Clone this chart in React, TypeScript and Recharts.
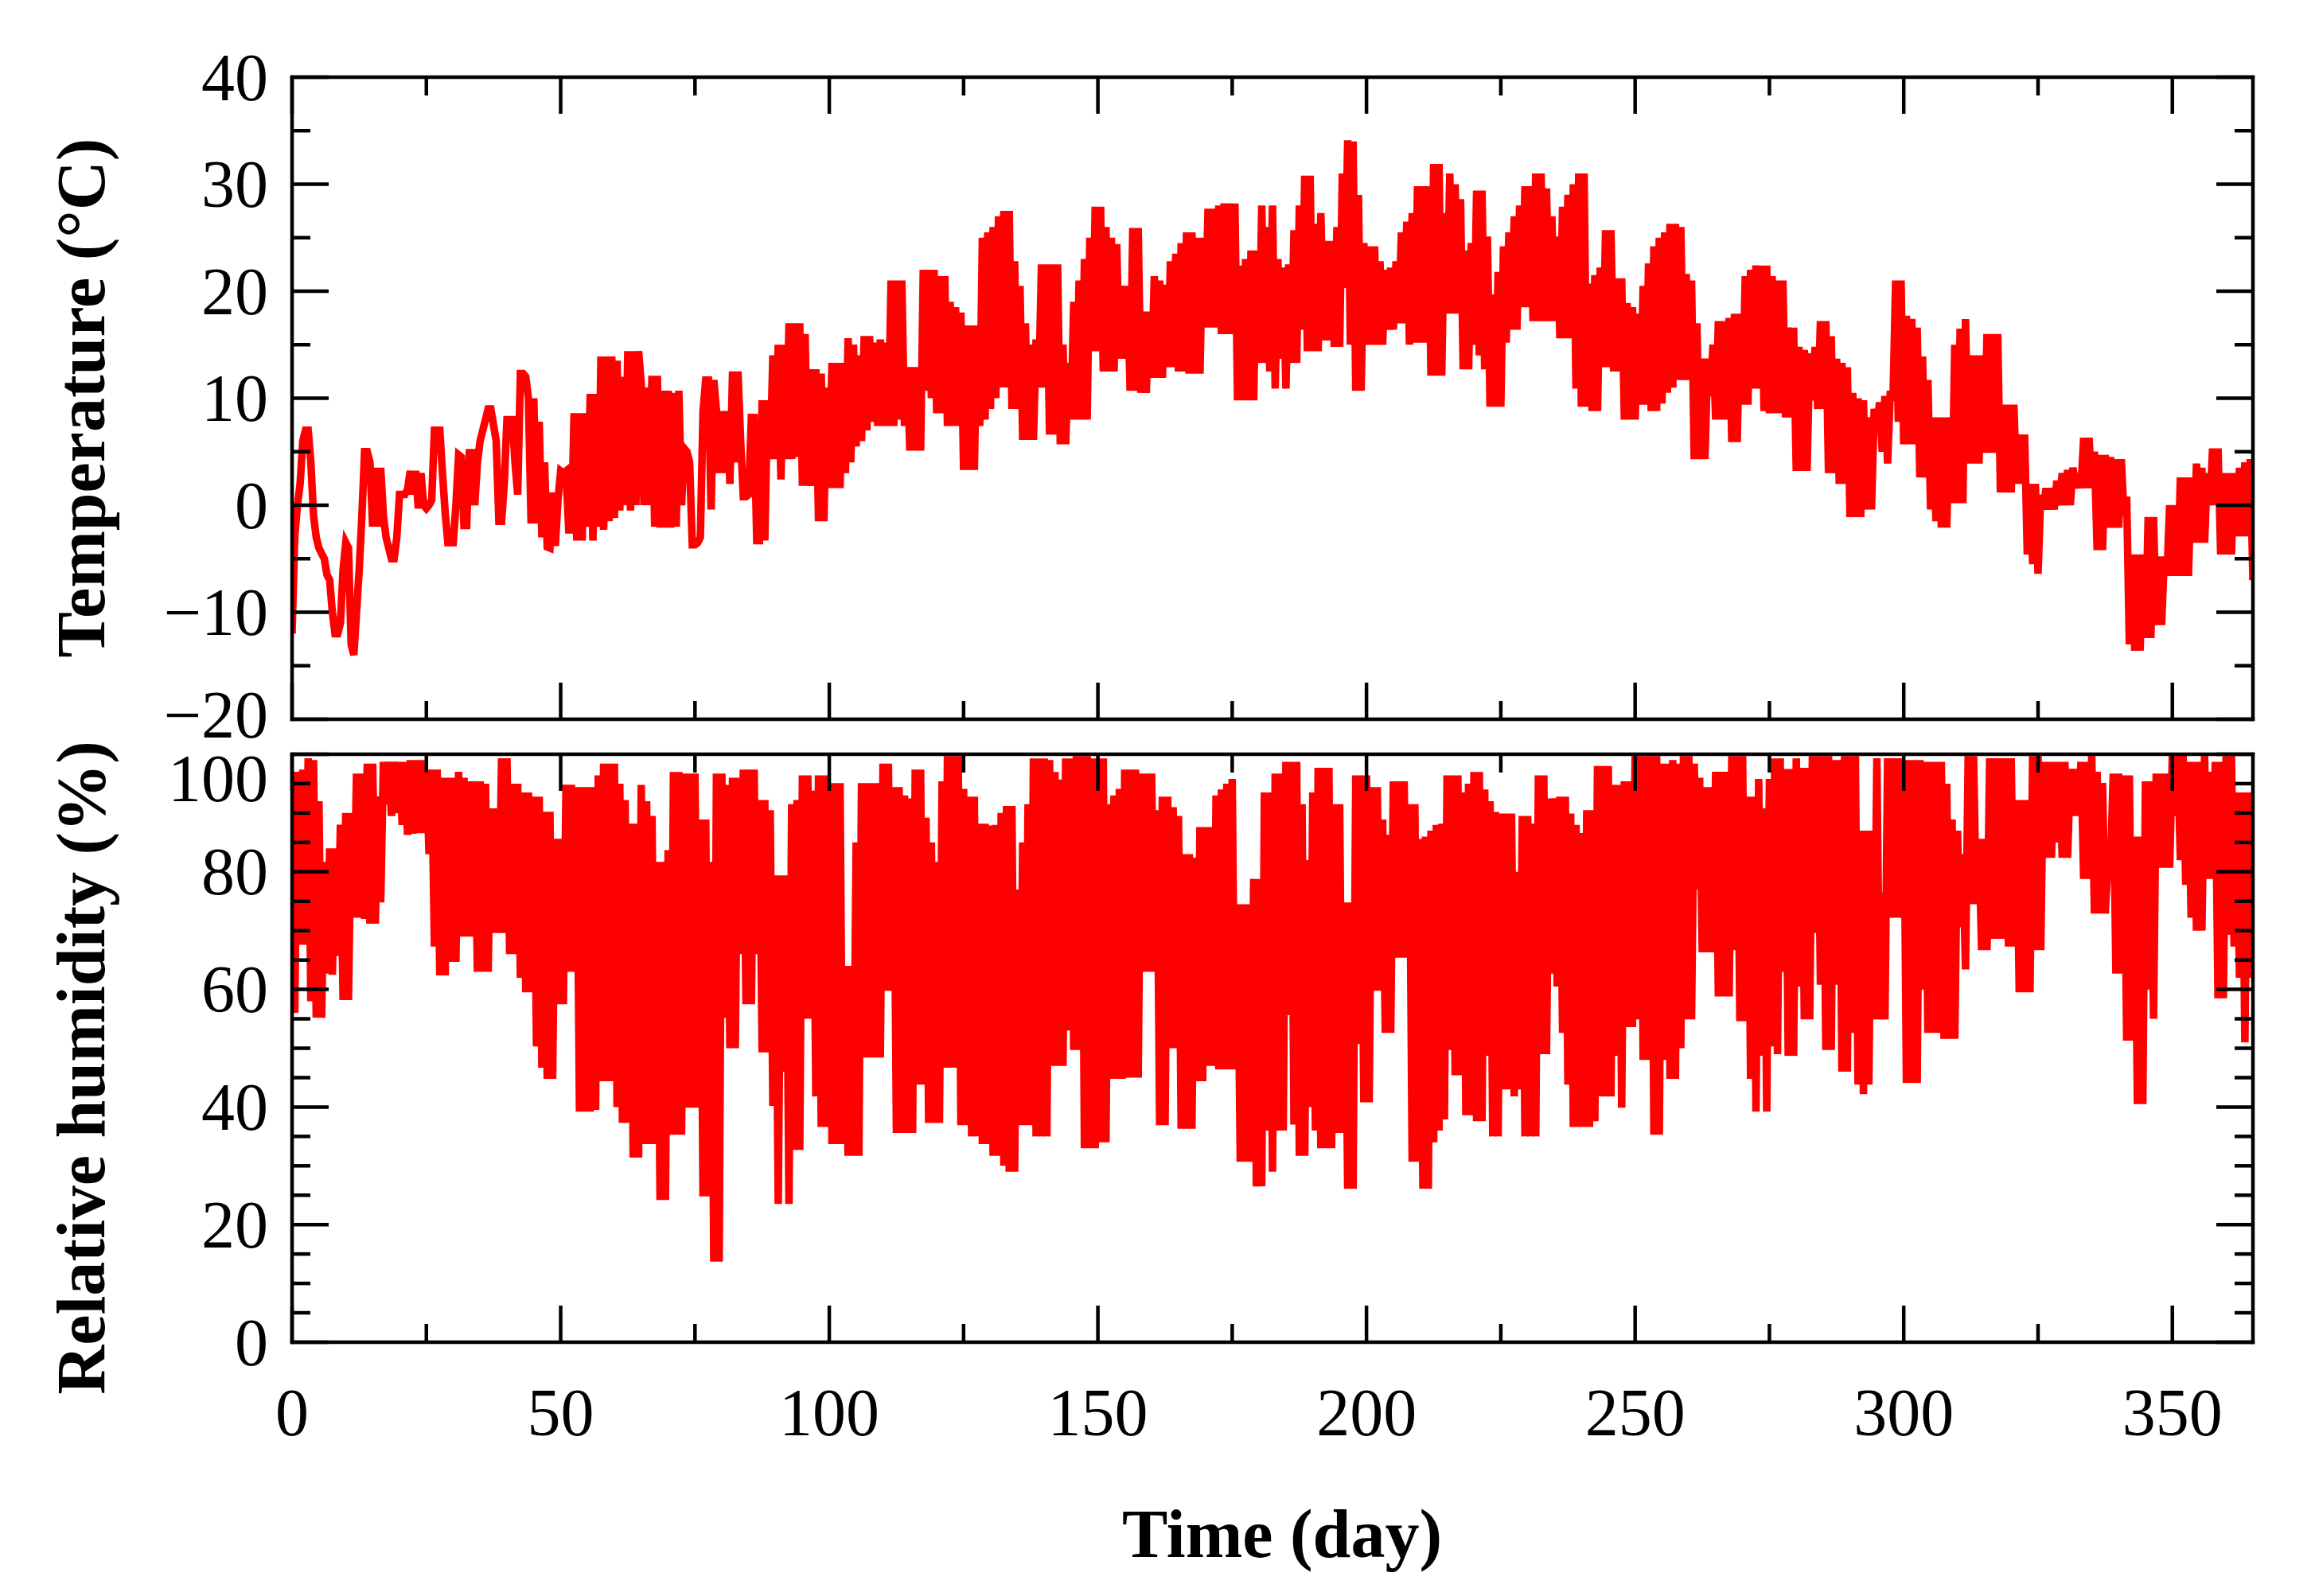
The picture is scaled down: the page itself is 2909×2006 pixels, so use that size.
import React from 'react';
import { LineChart, Line, XAxis, YAxis, ReferenceLine } from 'recharts';

// ---------- data ----------
const SAMPLES_PER_DAY = 2;
const dayTicks = [0, 25, 50, 75, 100, 125, 150, 175, 200, 225, 250, 275, 300, 325, 350];
const dayLabels = [0, 50, 100, 150, 200, 250, 300, 350];
const temperatureTicks = [-20, -15, -10, -5, 0, 5, 10, 15, 20, 25, 30, 35, 40];
const temperatureLabels = [-20, -10, 0, 10, 20, 30, 40];
const humidityTicks = [0, 5, 10, 15, 20, 25, 30, 35, 40, 45, 50, 55, 60, 65, 70, 75, 80, 85, 90, 95, 100];
const humidityLabels = [0, 20, 40, 60, 80, 100];

// two readings per day (temperature, °C)
const temperatureValues = [
  -12,-3, 0,2, 6,7, 7,4, -1,-3, -4,-4.5, -5,-6.5, -7,-10, -12,-12, -11,-6,
  -3.5,-4, -13,-14, -10,-6, -1,5, 5,4, -2,3.5, -2,3.5, -1,-3, -4,-5, -5,-3,
  1,1, 1,1.5, 3.2,1, 3.2,-0.3, 3,0, -0.3,0, 0.5,7, 7,7, 3,-0.7, -3.5,-3.5,
  -3.5,0, 4.7,4.5, -1.9,-1.9, 4.9,4.9, 0,4, 6,7, 8,9, 9,7.5, 6,-1.5, -1.5,2,
  8,8, 8,4, 1,12.3, 12.3,12, 10,-1.7, 10,-1.7, 7.8,-3, 4,-3.9, -4,1.2, -3.8,0.5,
  3.2,3, 3.2,-2.3, -2.3,8.6, -3.3,8.6, -3.3,8.6, -2,10.4, -3.3,10.4, -2,13.9, -2.3,13.9, -1.5,13.9,
  -1.2,13.5, -0.5,12, 0,14.4, -0.5,14.4, 0,14.4, 11.3,0, 11,0, 12.1,-2, 12.1,-2.1, 10.7,-2.1,
  10.7,-2.1, 10.5,-2, 10.7,0, 5.3,5, 4,-3.7, -3.7,-3.5, -3,8.8, 11.7,11.7, -0.4,11.7, 8.8,3,
  8.8,3, 8.8,2, 12.5,4, 12.5,6, 0.8,0.8, 1,8.2, 8.2,-3.3, -3.3,9.8, -3.3,9.8, 4.3,14,
  4.3,15, 2.4,15, 4.3,17, 4.3,17, 4.5,17, 1.8,16, 1.8,12.7, 1.8,12.7, -1.5,12.3, -1.5,11,
  1.6,13.3, 1.6,13.3, 1.6,13.3, 3,15.6, 4,15, 5.5,14, 6,15.8, 7,15.8, 7.8,15.2, 7.4,15.5,
  7.4,15.2, 7.4,21, 7.4,21, 8,21, 7.4,12.9, 5.1,12.9, 5.1,12.9, 5.1,22, 10.7,22, 10,22,
  8.6,21.4, 8.6,21.4, 7.4,19, 7.4,18.5, 7.4,18, 3.3,16.8, 3.3,16.8, 3.3,16.8, 7.4,25, 8,25.5,
  9,26, 10,27, 11,27.5, 11,27.5, 9,22.8, 9,20.5, 6.1,17, 6.1,15, 6.1,15.5, 11,22.5,
  11,22.5, 6.6,22.5, 6.6,22.5, 5.7,15, 5.7,13.3, 8,19, 8,21, 8,23, 8,25, 14.4,27.9,
  14.4,27.9, 12.5,26, 12.5,25, 12.5,24.4, 13.7,20.5, 13.7,20.5, 10.7,25.9, 10.7,25.9, 10.5,18.1, 10.5,18.1,
  11.9,21.4, 11.9,21, 11.9,20.6, 12.9,22.8, 12.9,23.5, 12.5,24.5, 12.5,25.5, 12.3,25.5, 12.3,25, 12.3,25,
  16.6,27.7, 16.6,27.7, 16.6,28, 16,28.2, 16,28.2, 16,28.2, 9.8,22.4, 9.8,23, 9.8,23.8, 9.8,23.8,
  13.3,28, 13.3,26, 12.5,28, 10.9,23, 13.7,22.2, 10.9,22.5, 13.3,25.7, 13.3,28, 16.4,30.8, 14.4,30.8,
  14.4,26.3, 14.4,27.3, 15.4,24.7, 15.4,24.7, 14.8,26, 14.8,31, 20.3,34.1, 15,34, 10.7,29, 10.7,24.5,
  15,24.2, 15,24.2, 15,22.8, 15,22, 16.4,22.2, 16.4,22.8, 17,25.5, 17,26.5, 15,27.3, 15.2,29.8,
  15.2,29.8, 15.2,29.8, 12.1,31.9, 12.1,31.9, 12.1,27.3, 17.9,31, 17.9,30, 17.9,28.6, 12.7,23.8, 12.7,24.5,
  15,29.4, 14,29.4, 12.7,25.1, 9.2,19.7, 9.2,21.8, 9.2,24.2, 15.2,25.5, 16.4,27, 16.4,28, 18.5,29.8,
  18.5,29.8, 17.2,31, 17.2,31, 17.2,29.6, 17.2,27, 17.2,25.1, 15.6,27.9, 15.6,29, 15.6,30, 10.9,31,
  9.2,31, 9.2,20.7, 8.8,21.5, 8.8,22.2, 12.9,25.7, 12.9,25.7, 12.5,21.2, 12.5,21.2, 8,18.9, 8,18.5,
  8,17.9, 9.4,20.5, 9.4,22.6, 8.8,24.2, 8.8,25, 9.5,25.5, 10.5,26.3, 11,26.3, 11.7,26, 11.7,21.6,
  11.7,21, 4.3,17, 4.3,13.7, 4.3,13.7, 10.2,15, 8,17.2, 8,17.2, 8,17.5, 5.9,17.9, 5.9,17.9,
  9.4,21.4, 9.4,22, 10.9,22.4, 10.9,22.4, 8.8,22.4, 8.6,21.4, 8.6,21, 8.6,21, 8.2,16.6, 8.2,16.6,
  3.2,14.8, 3.2,14.5, 3.2,14.2, 9.8,14.8, 9,17.2, 9,17.2, 3,15.8, 3,13.7, 2,13.3, 2,12.9,
  -1.1,10.5, -1.1,10, -1.1,9.8, -0.4,8.2, -0.4,9, 7.4,9.6, 5,10.2, 3.9,10.7, 9.8,21, 7.8,21,
  5.7,17.7, 5.7,17.4, 5.7,16.6, 2.6,13.9, 2.6,11.7, -0.4,8.2, -1.5,8.2, -2.1,8.2, -2.1,8.2, 0.2,15,
  0.2,16.5, 0.2,17.4, 3.9,14, 3.9,14, 3.9,14, 4.9,16, 4.9,16, 4.9,16, 1.2,9.4, 1.2,9.4,
  1.2,9.4, 2,6.6, 2,6.6, -4.6,2, -5.5,2, -6.4,1, -0.4,1.6, -0.4,1.6, -0.4,2.3, 0,3,
  0,3.3, 0,3.5, 1.6,3, 1.6,6.3, 1.6,6.3, 1.6,5, -4.2,4.7, -4.2,4.7, -2.1,4.5, -2.1,4.3,
  -2.1,4.3, -1,0.8, -13,-4.6, -13.6,-4.6, -13.6,-4.6, -12.4,-1.1, -12.4,-1.1, -11.2,-4.8, -11.2,-4.8, -6.6,0,
  -6.6,0, -6.6,2.6, -6.6,2.6, -6.6,2.6, -3.5,3.9, -3.5,3.5, -3.5,3, 0,5.3, 0,5.3, -4.6,3,
  -4.6,3, -4.6,3, -2.9,3.5, -2.9,4, -2.9,4.3,
  -7,
];

// two readings per day (relative humidity, %)
const humidityValues = [
  96,56, 97,67.6, 97.4,67.6, 99.3,58, 99,55.2, 92,55.2, 81.7,62.7, 84,62.5, 84,65.7, 88,58.2,
  90,58.2, 90,72.2, 96.7,72.2, 96.7,72, 98.4,71.2, 98.4,71.2, 92.8,74.8, 98.7,91.5, 98.7,89.5, 98.7,90,
  98.7,88, 98.7,86.3, 99,86.5, 99,86.6, 99,86.6, 97.4,83, 97.4,67.3, 97.4,62.4, 96,62.4, 96,64.7,
  96,64.7, 97,69, 96,69, 95.4,69, 95.4,63, 95.4,63, 95,63, 90.8,69.6, 90.8,69.6, 99.3,69.6,
  99.3,66, 95,66, 95,62, 93.5,59.5, 93.5,59.5, 92.8,50.3, 92.8,46.7, 90.2,44.8, 90.2,44.8, 85.6,57.5,
  85.6,57.5, 94.8,63, 94.8,63, 94.4,39.2, 94.4,39.2, 94.4,39.2, 94.4,39.5, 96.4,44.4, 98.4,44.4, 98.4,44.4,
  98.4,40, 95,37.3, 92.2,37.3, 88.2,31.4, 88.2,31.4, 94.8,33.7, 92,33.7, 89.5,33.7, 81.7,24.2, 81.7,24.2,
  83.7,35.3, 97,35.3, 97,35.3, 96.7,39.9, 96.7,39.9, 96.7,39.9, 88.9,24.8, 88.9,24.8, 81.7,13.7, 96.7,13.7,
  96.7,55.2, 94.8,50, 96,50, 96,66, 97.4,57.5, 97.4,57.5, 97.4,66, 92.2,49.3, 92.2,49.3, 90.5,40.2,
  79.4,23.5, 79.4,46, 79.4,23.5, 91.5,32.7, 92.2,32.7, 96.4,55, 96.4,55, 93.8,41.8, 96.4,36.6, 96.4,36.6,
  95.1,33.7, 95.1,33.7, 95.1,33.7, 64,31.7, 64,31.7, 85,31.7, 95.1,48.4, 95.1,48.4, 95.1,48.4, 95.1,48.4,
  98.4,59.8, 98.4,59.8, 94.4,35.6, 94.4,35.6, 93,35.6, 92.5,35.6, 97.4,43.8, 97.4,43.8, 89.2,37.3, 85,37.3,
  81.7,37.3, 95.4,46.7, 99.7,46.7, 99.7,46.7, 99.7,36.9, 94.1,36.9, 92.8,35, 92.8,35, 88.2,33.7, 88.2,33.7,
  87.9,31.7, 88,31.7, 90,30, 91.2,29, 91.2,29, 77,36.9, 85,36.9, 91.5,36.9, 99.3,35, 99.3,35,
  99.3,35, 99,47, 97,47, 95.7,47, 99.3,53, 99.3,49.7, 99.7,49.7, 99.7,33, 99.7,33, 99.3,33,
  99.3,34, 99.3,34, 91.5,44.8, 93,44.8, 94.1,44.8, 97.4,45, 97.4,45, 97.4,45, 96.7,63, 96.7,63,
  96.7,63, 90.5,36.9, 92.8,36.9, 92.8,50, 91,50, 89.5,36.3, 83,36.3, 83,36.3, 82.4,44.4, 87.6,44.4,
  87.6,47, 87.6,47, 93,46.4, 94,46.4, 95,46.4, 95.8,46.4, 74.5,30.7, 74.5,30.7, 74.5,30.7, 78.8,26.5,
  78.8,26.5, 93.5,36, 93.5,29, 96.7,36, 96.7,36, 98.7,55.6, 98.7,37, 98.7,31.7, 91.5,31.7, 82,40,
  93.5,36, 97.7,33, 97.7,33, 97.7,33, 91.5,35.6, 91.5,35.6, 74.8,26.1, 74.8,26.1, 96.4,50.7, 96.4,40.8,
  96.4,40.8, 94.4,59.8, 94.4,59.8, 88.9,52.6, 86.3,52.6, 95.4,65.4, 95.4,65.4, 95.4,65.4, 91.5,30.7, 91.5,30.7,
  85.6,26.1, 86,26.1, 87,34, 88,36, 88.2,37.9, 96.4,49.7, 96.4,45.4, 96.4,45.4, 93.5,38.6, 95,38.6,
  97,37.6, 97,37.6, 94,48.7, 92,35, 90.2,35, 89.9,43, 89.9,43, 89.9,41.8, 80,43, 89.5,35,
  89.5,35, 88.2,35, 96.4,49, 96.4,49, 92.5,62.7, 92.5,60.5, 92.8,52.6, 92.8,43.8, 89.9,36.6, 88,36.6,
  86.6,36.6, 90.5,36.6, 90.5,37.6, 98,41.8, 98,41.8, 98,41.8, 94.8,48.7, 94.8,39.9, 95.4,53.6, 95.4,53.6,
  99.7,54.9, 99.7,48, 99.7,48, 99.7,35.3, 99.7,35.3, 98.4,48, 98.4,44.8, 99,44.8, 98.4,50, 99.7,54.9,
  99.7,54.9, 98.4,77, 96,66.3, 94.4,66.3, 94.4,66.3, 97,58.8, 97,58.8, 97,58.8, 99.7,66.7, 99.7,54.6,
  99.7,54.6, 92.8,44.8, 92.8,39.2, 95.8,48.7, 90.8,39.2, 95.8,50.3, 99.3,49, 99.3,63, 97.5,48.7, 97.5,48.7,
  99.3,60.5, 97.7,54.9, 97.7,54.9, 99.7,69.6, 99.7,60.8, 99.7,49.7, 99.7,49.7, 99,60.8, 99,46, 99.7,46,
  99.7,52.6, 99.7,43.8, 87,42.2, 87,43.8, 87,54.9, 99.3,54.9, 76.5,54.9, 99.3,72.2, 99.3,72.2, 99.3,72.2,
  99,44.1, 99,44.1, 99,44.1, 99,60, 98.7,52.6, 98.7,52.6, 98.7,52.6, 98.7,51.6, 95,51.6, 88.9,51.6,
  87,70.6, 83,63.4, 99.7,74.5, 99.7,74.5, 85.6,66.7, 85.6,66.7, 99.3,68.6, 99.3,68.6, 99.3,68.6, 99.3,67.3,
  99.3,67.3, 92.2,59.5, 92.2,59.5, 92.2,59.5, 99.7,66.7, 99.7,66.7, 98.7,82.4, 98.7,82.4, 98.7,85, 98.7,82.4,
  98.7,82.4, 97.5,89.5, 97.5,89.5, 98.7,78.8, 98.7,78.8, 99.7,72.9, 97,72.9, 95.1,72.9, 81,81, 96.7,62.7,
  96.7,62.7, 96.4,51.3, 96.4,51.3, 86,40.5, 86,40.5, 95.4,60, 95.4,55, 96.7,80.7, 96.7,80.7, 96.7,80.7,
  99.7,89.5, 99.7,82, 99.7,77.8, 98.7,72.2, 98.7,70, 98.7,70, 99.7,78.8, 97,78.8, 98.7,58.5, 98.7,58.5,
  99.7,69.3, 99.7,67.3, 93.5,62, 93.5,51, 93.5,62,
  93,
];

const temperatureData = temperatureValues.map((v, i) => ({ day: i / SAMPLES_PER_DAY, temperature: v }));
const humidityData = humidityValues.map((v, i) => ({ day: i / SAMPLES_PER_DAY, humidity: v }));

// ---------- layout / style ----------
const W = 2909;
const H = 2006;
const PLOT_LEFT = 367;
const PLOT_RIGHT = 2831;
const CHART1_H = 1000;
const CHART1_TOP = 97;
const CHART1_BOTTOM = 904;
const CHART2_TOP = 948;
const CHART2_BOTTOM = 1687;
const AXIS_BAND = 1; // tiny axis band so the axes render

const FONT = '"Liberation Serif", "Times New Roman", serif';
const TICK_FONT_SIZE = 84;
const TITLE_FONT_SIZE = 86;
const STROKE = 4.5;
const MAJOR_LEN = 46;
const MINOR_LEN = 23;
const RED = '#ff0000';
const LINE_WIDTH = 9.5;

const fmt = (v: number) => String(v).replace('-', '\u2212');

function makeYTick(labels: number[], topValue: number, topShift: number, bottomValue: number, bottomShift: number) {
  return (props: any) => {
    const { x, y, payload } = props;
    const v = payload.value as number;
    const major = labels.includes(v);
    const len = major ? MAJOR_LEN : MINOR_LEN;
    const shift = v === topValue ? topShift : v === bottomValue ? bottomShift : 0;
    return (
      <g>
        <line x1={x} y1={y} x2={x + len} y2={y} stroke="#000" strokeWidth={STROKE} />
        <line x1={PLOT_RIGHT} y1={y} x2={PLOT_RIGHT - len} y2={y} stroke="#000" strokeWidth={STROKE} />
        {major && (
          <text
            x={x - 30}
            y={y + shift}
            dy="0.34em"
            textAnchor="end"
            fontFamily={FONT}
            fontSize={TICK_FONT_SIZE}
            fill="#000"
          >
            {fmt(v)}
          </text>
        )}
      </g>
    );
  };
}

function makeXTick(plotTop: number, showLabels: boolean) {
  return (props: any) => {
    const { x, y, payload } = props;
    const v = payload.value as number;
    const major = dayLabels.includes(v);
    const len = major ? MAJOR_LEN : MINOR_LEN;
    return (
      <g>
        <line x1={x} y1={y} x2={x} y2={y - len} stroke="#000" strokeWidth={STROKE} />
        <line x1={x} y1={plotTop} x2={x} y2={plotTop + len} stroke="#000" strokeWidth={STROKE} />
        {showLabels && major && (
          <text
            x={x}
            y={y + 88}
            dy="0.34em"
            textAnchor="middle"
            fontFamily={FONT}
            fontSize={TICK_FONT_SIZE}
            fill="#000"
          >
            {fmt(v)}
          </text>
        )}
      </g>
    );
  };
}

const axisLineStyle = { stroke: '#000', strokeWidth: STROKE, strokeLinecap: 'square' as const };

export default function App() {
  return (
    <div style={{ position: 'absolute', left: 0, top: 0, width: W, height: H, background: '#fff' }}>
      <div style={{ position: 'absolute', left: 0, top: 0 }}>
        <LineChart
          width={W}
          height={CHART1_H}
          data={temperatureData}
          margin={{
            top: CHART1_TOP,
            right: W - PLOT_RIGHT,
            bottom: CHART1_H - CHART1_BOTTOM - AXIS_BAND,
            left: PLOT_LEFT - AXIS_BAND,
          }}
        >
          <XAxis
            dataKey="day"
            type="number"
            domain={[0, 365]}
            allowDataOverflow
            ticks={dayTicks}
            interval={0}
            height={AXIS_BAND}
            tickSize={0}
            tickMargin={0}
            tickLine={false}
            axisLine={axisLineStyle}
            tick={makeXTick(CHART1_TOP, false)}
          />
          <YAxis
            type="number"
            domain={[-20, 40]}
            allowDataOverflow
            ticks={temperatureTicks}
            interval={0}
            width={AXIS_BAND}
            tickSize={0}
            tickMargin={0}
            tickLine={false}
            axisLine={axisLineStyle}
            tick={makeYTick(temperatureLabels, 40, 0, -20, -6)}
          />
          <Line
            type="linear"
            dataKey="temperature"
            stroke={RED}
            strokeWidth={LINE_WIDTH}
            dot={false}
            activeDot={false}
            isAnimationActive={false}
          />
          <ReferenceLine y={40} stroke="#000" strokeWidth={STROKE} strokeLinecap="square" />
          <ReferenceLine x={365} stroke="#000" strokeWidth={STROKE} strokeLinecap="square" />
        </LineChart>
      </div>
      <div style={{ position: 'absolute', left: 0, top: 0 }}>
        <LineChart
          width={W}
          height={H}
          data={humidityData}
          margin={{
            top: CHART2_TOP,
            right: W - PLOT_RIGHT,
            bottom: H - CHART2_BOTTOM - AXIS_BAND,
            left: PLOT_LEFT - AXIS_BAND,
          }}
        >
          <XAxis
            dataKey="day"
            type="number"
            domain={[0, 365]}
            allowDataOverflow
            ticks={dayTicks}
            interval={0}
            height={AXIS_BAND}
            tickSize={0}
            tickMargin={0}
            tickLine={false}
            axisLine={axisLineStyle}
            tick={makeXTick(CHART2_TOP, true)}
          />
          <YAxis
            type="number"
            domain={[0, 100]}
            allowDataOverflow
            ticks={humidityTicks}
            interval={0}
            width={AXIS_BAND}
            tickSize={0}
            tickMargin={0}
            tickLine={false}
            axisLine={axisLineStyle}
            tick={makeYTick(humidityLabels, 100, 30, 0, 0)}
          />
          <Line
            type="linear"
            dataKey="humidity"
            stroke={RED}
            strokeWidth={LINE_WIDTH}
            dot={false}
            activeDot={false}
            isAnimationActive={false}
          />
          <ReferenceLine y={100} stroke="#000" strokeWidth={STROKE} strokeLinecap="square" />
          <ReferenceLine x={365} stroke="#000" strokeWidth={STROKE} strokeLinecap="square" />
        </LineChart>
      </div>
      <svg
        width={W}
        height={H}
        style={{ position: 'absolute', left: 0, top: 0, pointerEvents: 'none' }}
      >
        <text
          transform="translate(131,500) rotate(-90)"
          textAnchor="middle"
          fontFamily={FONT}
          fontWeight="bold"
          fontSize={TITLE_FONT_SIZE}
          fill="#000"
        >
          Temperature (°C)
        </text>
        <text
          transform="translate(131,1342) rotate(-90)"
          textAnchor="middle"
          fontFamily={FONT}
          fontWeight="bold"
          fontSize={TITLE_FONT_SIZE}
          fill="#000"
        >
          Relative humidity (%)
        </text>
        <text
          x={1611}
          y={1957}
          textAnchor="middle"
          fontFamily={FONT}
          fontWeight="bold"
          fontSize={TITLE_FONT_SIZE}
          fill="#000"
        >
          Time (day)
        </text>
      </svg>
    </div>
  );
}
